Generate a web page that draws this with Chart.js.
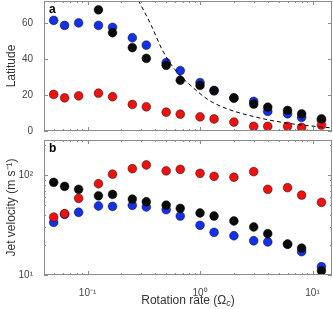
<!DOCTYPE html>
<html lang="en">
  <head>
    <meta charset="UTF-8">
    <title>Latitude and jet velocity vs rotation rate</title>
    <script src="https://cdn.jsdelivr.net/npm/chart.js@4"></script>
    <style>
      body { margin: 0; background: #fff; }
      #wrap { position: relative; width: 333px; height: 309px; }
      #wrap div { position: absolute; left: 0; width: 333px; }
    </style>
  </head>
  <body>
    <div id="wrap">
      <div style="top:0;height:135px"><canvas id="chartA"></canvas></div>
      <div style="top:135px;height:174px"><canvas id="chartB"></canvas></div>
    </div>
    <script type="text/javascript">
      // rotation rates (in units of Omega_e)
      const rates = [0.05, 0.0625, 0.0833, 0.125, 0.1667, 0.25, 0.333, 0.5, 0.667, 1, 1.333, 2, 3, 4, 6, 8, 12]

      // panel a: jet latitude (degrees)
      const latBlack = [null, null, null, 67.6, 54.8, 46.5, 40.5, 36.6, 28.3, 25.4, 22.6, 18.5, 15, 13.3, 11.5, 9.6, 6.8]
      const latBlue  = [61.7, 58.9, 60.3, 58.9, 57.8, 52, 47.9, 38.1, 33.7, 27, 22.4, 18.3, 16.5, 10.9, 9.6, 7.6, 6.2]
      const latRed   = [20.4, 18.5, 19.6, 21.1, 19.1, 14.8, 13.5, 10.5, 9.4, 7.9, 6.7, 5, 2.6, 2.6, 2.6, 2, 3.3]

      // dashed reference curve
      const curveRate = [0.283, 0.367, 0.462, 0.6, 0.815, 1.186, 1.67, 2.98, 5.9, 14.8]
      const curveLat  = [72.9, 59.1, 45.2, 34.1, 25.7, 17.4, 12.8, 8.1, 4.4, 1.7]

      // panel b: jet velocity (m/s)
      const velBlack = [84.5, 77, 72, 62, 64, 57.5, 54, 50, 46.4, 41.7, 38.9, 34.7, 30.2, 25.9, 20.4, 18.6, 11]
      const velBlue  = [33.6, 40.5, 42.4, 49, 48.6, 49.8, 47.9, 45, 38.9, 31.4, 26.7, 24.7, 22, 21.4, 20.3, 17.1, 12.1]
      const velRed   = [38, 41, 58.5, 81.8, 102, 115.6, 126, 110, 114, 104, 97, 95, 108, 72, 74.7, 63, 53.3]

      const latTicks = [0, 20, 40, 60]
      const velTicks = [10, 100]
      const velTickLabels = ['10¹', '10²']
      const rateTicks = [0.1, 1, 10]
      const rateTickLabels = ['10⁻¹', '10⁰', '10¹']

      Chart.defaults.font.family = "'Liberation Sans', Arial, sans-serif"
      Chart.defaults.animation = false

      const pts = (ys) => rates.map((r, i) => ({ x: r, y: ys[i] })).filter(p => p.y !== null)

      const dot = (label, color, data) => ({
        label: label,
        data: data,
        showLine: false,
        pointRadius: 4.4,
        pointBackgroundColor: color,
        pointBorderColor: 'rgba(0,0,0,0.55)',
        pointBorderWidth: 0.8
      })

      // minor ticks for the log axes
      function logMinor(min, max) {
        const out = []
        for (let d = -3; d <= 3; d++) {
          for (let m = 2; m <= 9; m++) {
            const v = m * Math.pow(10, d)
            if (v > min && v < max) out.push(v)
          }
        }
        return out
      }

      // fixed axis sizes, no extra label padding
      const fixY = s => { s.width = 44; s.paddingTop = 0; s.paddingBottom = 0 }
      const fixX = h => s => { s.height = h; s.paddingLeft = 0; s.paddingRight = 0 }

      // MATLAB-like box with inward ticks
      const frame = {
        id: 'frame',
        afterDatasetsDraw(chart, args, opts) {
          const { ctx, chartArea: a, scales } = chart
          ctx.save()
          ctx.strokeStyle = '#8c8c8c'
          ctx.lineWidth = 1
          ctx.strokeRect(a.left + 0.5, a.top + 0.5, a.right - a.left - 1, a.bottom - a.top - 1)
          const seg = (x1, y1, x2, y2) => { ctx.beginPath(); ctx.moveTo(x1, y1); ctx.lineTo(x2, y2); ctx.stroke() }
          opts.x.forEach(([v, len]) => {
            const px = Math.round(scales.x.getPixelForValue(v)) + 0.5
            seg(px, a.bottom, px, a.bottom - len)
            seg(px, a.top, px, a.top + len)
          })
          opts.y.forEach(([v, len]) => {
            const py = Math.round(scales.y.getPixelForValue(v)) + 0.5
            seg(a.left, py, a.left + len, py)
            seg(a.right, py, a.right - len, py)
          })
          // panel letter
          ctx.fillStyle = '#000'
          ctx.font = "bold 12px 'Liberation Sans', Arial, sans-serif"
          ctx.textBaseline = 'top'
          ctx.fillText(opts.letter, a.left + 5, a.top + 3)
          ctx.restore()
        }
      }

      // x title with a subscript for panel b
      const xTitle = {
        id: 'xTitle',
        afterDraw(chart) {
          const { ctx, chartArea: a } = chart
          const f = "'Liberation Sans', Arial, sans-serif"
          const p1 = 'Rotation rate (Ω', p2 = 'c', p3 = ')'
          ctx.save()
          ctx.fillStyle = '#333'
          ctx.textBaseline = 'alphabetic'
          ctx.font = '12px ' + f
          const w1 = ctx.measureText(p1).width, w3 = ctx.measureText(p3).width
          ctx.font = 'italic 9px ' + f
          const w2 = ctx.measureText(p2).width
          let x = (a.left + a.right) / 2 - (w1 + w2 + w3) / 2
          const y = chart.height - 5
          ctx.font = '12px ' + f
          ctx.fillText(p1, x, y)
          x += w1
          ctx.font = 'italic 9px ' + f
          ctx.fillText(p2, x, y + 2)
          x += w2
          ctx.font = '12px ' + f
          ctx.fillText(p3, x, y)
          ctx.restore()
        }
      }

      const xMin = 0.041, xMax = 14.9
      const xTickMarks = rateTicks.map(v => [v, 4]).concat(logMinor(xMin, xMax).map(v => [v, 2]))

      new Chart(document.getElementById('chartA'), {
        type: 'scatter',
        data: {
          datasets: [
            {
              label: 'curve',
              data: curveRate.map((r, i) => ({ x: r, y: curveLat[i] })),
              showLine: true,
              borderColor: '#000',
              borderWidth: 1,
              borderDash: [4, 3],
              pointRadius: 0,
              cubicInterpolationMode: 'monotone'
            },
            dot('black', '#0a0a0a', pts(latBlack)),
            dot('red', '#ee1111', pts(latRed)),
            dot('blue', '#1430e8', pts(latBlue))
          ]
        },
        options: {
          responsive: true,
          maintainAspectRatio: false,
          layout: { autoPadding: false, padding: { top: 1, right: 1, bottom: 4, left: 0 } },
          plugins: {
            legend: { display: false },
            tooltip: { enabled: false },
            frame: { letter: 'a', x: xTickMarks, y: latTicks.map(v => [v, 4]) }
          },
          scales: {
            x: { type: 'logarithmic', min: xMin, max: xMax, display: false },
            y: {
              type: 'linear', min: 0, max: 72.5,
              grid: { display: false }, border: { display: false },
              afterBuildTicks: s => { s.ticks = latTicks.map(v => ({ value: v })) },
              afterFit: fixY,
              ticks: { color: '#444', font: { size: 10 }, padding: 3 },
              title: { display: true, text: 'Latitude', color: '#333', font: { size: 12 } }
            }
          }
        },
        plugins: [frame]
      })

      const yMin = 10, yMax = 224
      new Chart(document.getElementById('chartB'), {
        type: 'scatter',
        data: {
          datasets: [
            dot('black', '#0a0a0a', pts(velBlack)),
            dot('red', '#ee1111', pts(velRed)),
            dot('blue', '#1430e8', pts(velBlue))
          ]
        },
        options: {
          responsive: true,
          maintainAspectRatio: false,
          layout: { autoPadding: false, padding: { top: 5, right: 1, bottom: 0, left: 0 } },
          plugins: {
            legend: { display: false },
            tooltip: { enabled: false },
            frame: {
              letter: 'b',
              x: xTickMarks,
              y: velTicks.map(v => [v, 4]).concat(logMinor(yMin, yMax).map(v => [v, 2]))
            }
          },
          scales: {
            x: {
              type: 'logarithmic', min: xMin, max: xMax,
              grid: { display: false }, border: { display: false },
              afterBuildTicks: s => { s.ticks = rateTicks.map(v => ({ value: v })) },
              afterFit: fixX(34),
              ticks: {
                color: '#444', font: { size: 10 }, padding: 4, maxRotation: 0,
                callback: (v) => rateTickLabels[rateTicks.indexOf(v)]
              }
            },
            y: {
              type: 'logarithmic', min: yMin, max: yMax,
              grid: { display: false }, border: { display: false },
              afterBuildTicks: s => { s.ticks = velTicks.map(v => ({ value: v })) },
              afterFit: fixY,
              ticks: {
                color: '#444', font: { size: 10 }, padding: 3,
                callback: (v) => velTickLabels[velTicks.indexOf(v)]
              },
              title: { display: true, text: 'Jet velocity (m s⁻¹)', color: '#333', font: { size: 12 } }
            }
          }
        },
        plugins: [frame, xTitle]
      })
    </script>
  </body>
</html>
